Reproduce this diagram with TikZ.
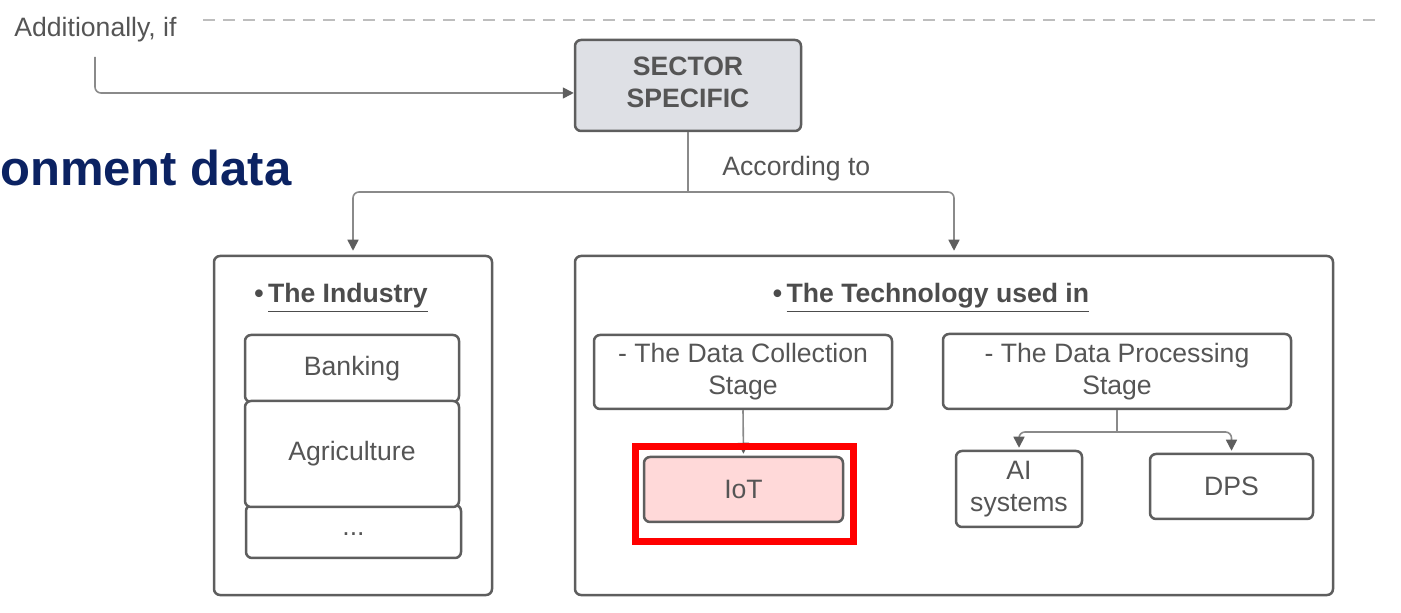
\documentclass[tikz,border=0pt]{standalone}
\usepackage{fontspec}
\setmainfont{Liberation Sans}
\usetikzlibrary{arrows.meta}
\definecolor{bordergray}{HTML}{5E5E5E}
\definecolor{txtgray}{HTML}{555555}
\definecolor{linegray}{HTML}{8A8A8A}
\definecolor{dashgray}{HTML}{BDBDBD}
\definecolor{sectorfill}{HTML}{DEE0E5}
\definecolor{iotfill}{HTML}{FFD9D9}
\definecolor{navy}{HTML}{0B2262}
\definecolor{redmark}{HTML}{FF0000}
\tikzset{
  box/.style={draw=bordergray, line width=1.25pt, rounded corners=3pt, fill=white,
    text=txtgray, align=center, inner sep=0pt,
    font=\fontsize{13.3}{16}\selectfont},
  conn/.style={draw=linegray, line width=0.8pt, rounded corners=3pt,
    -{Triangle[length=5.5pt,width=5.5pt,color=bordergray]}},
  plainconn/.style={draw=linegray, line width=0.8pt, rounded corners=3pt},
  lbl/.style={text=txtgray, inner sep=0pt, font=\fontsize{13.3}{16}\selectfont},
  hdr/.style={text=txtgray!90!black, inner sep=0pt, font=\fontsize{13.3}{16}\selectfont\bfseries},
}
\begin{document}
\begin{tikzpicture}[x=0.5pt,y=-0.5pt]
\useasboundingbox (0,0) rectangle (1401,613);

% top dashed line and label
\node[lbl, anchor=base west] (add) at (14,37) {Additionally, if};
\coordinate (dashA) at (203,20);
\coordinate (dashB) at (1382,20);
\draw[dashgray, line width=1.4pt, dash pattern=on 6pt off 4pt] (dashA) -- (dashB);

% title fragment
\node[anchor=base east, inner sep=0pt, text=navy, font=\fontsize{24.5}{30}\selectfont\bfseries] (title) at (292,186) {onment data};

% sector specific
\node[box, fill=sectorfill, minimum width=113pt, minimum height=45.5pt, font=\fontsize{13.3}{16}\selectfont\bfseries] (sector) at (688,85.5) {\raisebox{1.5pt}{\begin{tabular}{@{}c@{}}SECTOR\\SPECIFIC\end{tabular}}};

\coordinate (addstart) at (95,57);
\draw[conn] (addstart) |- ([yshift=-3.75pt]sector.west);

% big boxes
\node[box, minimum width=139pt, minimum height=169.5pt] (industry) at (353,425.5) {};
\node[box, minimum width=379pt, minimum height=169.5pt] (tech) at (954,425.5) {};

\coordinate (split) at (688,192);
\draw[plainconn] (sector.south) -- (split);
\draw[conn, shorten >=2pt] (split) -| (industry.north);
\draw[conn, shorten >=2pt] (split) -| (tech.north);
\node[lbl, anchor=base west] (acc) at (722,176) {According to};

% headers
\node[hdr, anchor=base] (indhdr) at (341,303) {\textbullet\,\underline{The Industry}};
\node[hdr, anchor=base] (techhdr) at (931,303) {\textbullet\,\underline{The Technology used in}};

% industry list
\node[box, minimum width=107.5pt, minimum height=26.5pt, text height=4pt, text depth=0pt] (dots) at (353.5,531.5) {...};
\node[box, minimum width=107pt, minimum height=33.5pt] (banking) at (352,368.5) {Banking};
\node[box, minimum width=107pt, minimum height=53pt] (agri) at (352,454) {Agriculture};

% technology
\node[box, minimum width=149pt, minimum height=37pt] (dc) at (743,372) {- The Data Collection\\Stage};
\node[box, minimum width=174pt, minimum height=37.5pt] (dp) at (1117,371.5) {- The Data Processing\\Stage};
\node[box, fill=iotfill, minimum width=99.5pt, minimum height=32.5pt] (iot) at (743.5,489.5) {IoT};
\node[box, minimum width=63pt, minimum height=38pt] (ai) at (1019,489) {AI\\systems};
\node[box, minimum width=81.5pt, minimum height=32.5pt] (dps) at (1231.5,486.5) {DPS};

\draw[conn, shorten >=1pt] (dc.south) -- (iot.north);
\coordinate (dpsplit) at (1117,432);
\draw[plainconn] (dp.south) -- (dpsplit);
\draw[conn, shorten >=1pt] (dpsplit) -| (ai.north);
\draw[conn, shorten >=1pt] (dpsplit) -| (dps.north);

% red highlight
\node[draw=redmark, line width=3.5pt, minimum width=109pt, minimum height=47.5pt, inner sep=0pt] (hl) at (744.5,494) {};
\end{tikzpicture}
\end{document}
